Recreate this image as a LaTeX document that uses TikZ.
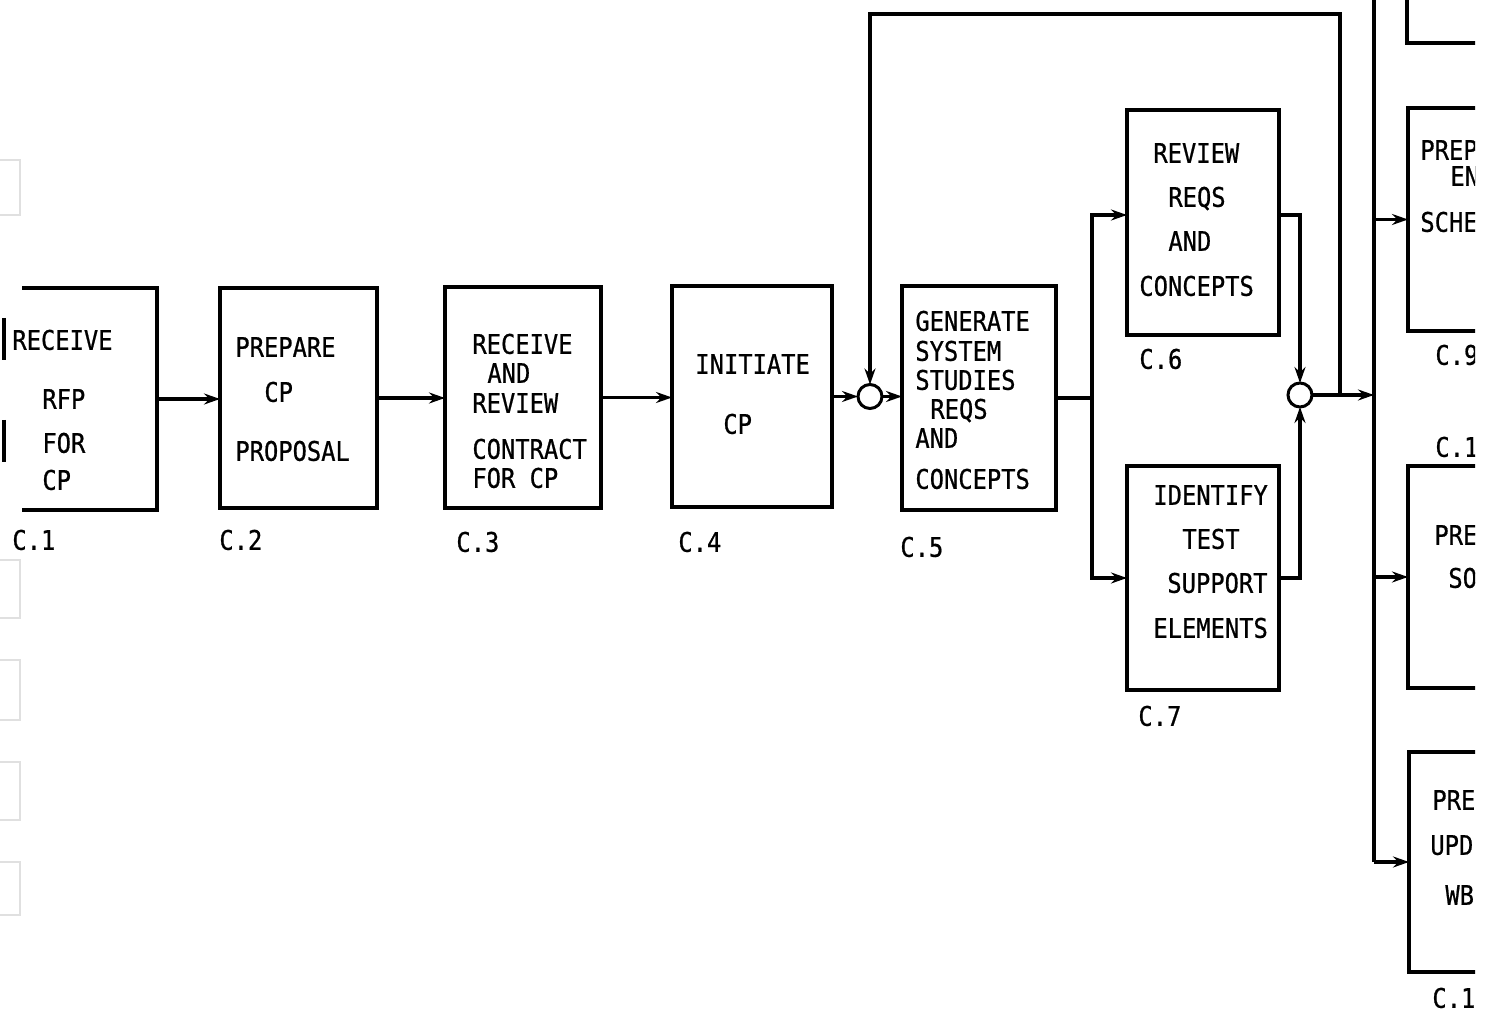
\documentclass[tikz,border=0pt]{standalone}
\usepackage{fontspec}
\usetikzlibrary{arrows.meta}
\newfontfamily\tw[FakeStretch=0.88,FakeBold=0.7]{DejaVu Sans Mono}
\begin{document}
\begin{tikzpicture}[x=0.5pt,y=-0.5pt,
  ln/.style={line width=1.8pt},
  arr/.style={line width=1.8pt,-{Stealth[length=8pt,width=5.5pt]}},
  box/.style={draw,line width=1.8pt,rectangle,anchor=north west,inner sep=0pt,outer sep=0pt},
  ghost/.style={rectangle,anchor=north west,inner sep=0pt,outer sep=0pt},
  jn/.style={draw,line width=1.5pt,circle,minimum size=12pt,inner sep=0pt,outer sep=0pt},
  txt/.style={font=\tw\fontsize{13.5pt}{15pt}\selectfont,inner sep=0pt,anchor=west,text height=9.8pt,text depth=0pt},
  faint/.style={draw=black!12,line width=0.6pt}
]
\useasboundingbox (0,0) rectangle (1485,1015);
\fill[white] (0,0) rectangle (1485,1015);
\begin{scope}
\clip (0,0) rectangle (1475,1015);

% faint margin marks
\draw[faint] (0,560) -- (20,560) -- (20,618) -- (0,618);
\draw[faint] (0,660) -- (20,660) -- (20,720) -- (0,720);
\draw[faint] (0,762) -- (20,762) -- (20,820) -- (0,820);
\draw[faint] (0,862) -- (20,862) -- (20,915) -- (0,915);
\draw[faint] (0,160) -- (20,160) -- (20,215) -- (0,215);

% C.1 (partly cut at the left)
\node[ghost,minimum width=76.5pt,minimum height=111pt] (c1) at (4,288) {};
\draw[ln] (22,288) -- (c1.north east) -- (c1.south east) -- (22,510);
\draw[line width=2.2pt] (4,318) -- (4,360);
\draw[line width=2.2pt] (4,420) -- (4,462);
\node[txt] (c1a) at (12,340) {RECEIVE};
\node[txt] (c1b) at (42,399) {RFP};
\node[txt] (c1c) at (42,443) {FOR};
\node[txt] (c1d) at (42,480) {CP};
\node[txt] (c1l) at (12,540) {C.1};

% C.2
\node[box,minimum width=78.5pt,minimum height=110pt] (c2) at (220,288) {};
\node[txt] (c2a) at (235,347) {PREPARE};
\node[txt] (c2b) at (264,392) {CP};
\node[txt] (c2c) at (235,451) {PROPOSAL};
\node[txt] (c2l) at (219,540) {C.2};

% C.3
\node[box,minimum width=78pt,minimum height=110.5pt] (c3) at (445,287) {};
\node[txt] (c3a) at (472,344) {RECEIVE};
\node[txt] (c3b) at (487,373) {AND};
\node[txt] (c3c) at (472,403) {REVIEW};
\node[txt] (c3d) at (472,449) {CONTRACT};
\node[txt] (c3e) at (472,478) {FOR CP};
\node[txt] (c3l) at (456,542) {C.3};

% C.4
\node[box,minimum width=80pt,minimum height=110.5pt] (c4) at (672,286) {};
\node[txt] (c4a) at (695,364) {INITIATE};
\node[txt] (c4b) at (723,424) {CP};
\node[txt] (c4l) at (678,542) {C.4};

% junction 1
\node[jn] (j1) at (870,396.5) {};

% C.5
\node[box,minimum width=77pt,minimum height=112pt] (c5) at (902,286) {};
\node[txt] (c5a) at (915,321) {GENERATE};
\node[txt] (c5b) at (915,351) {SYSTEM};
\node[txt] (c5c) at (915,380) {STUDIES};
\node[txt] (c5d) at (930,409) {REQS};
\node[txt] (c5e) at (915,438) {AND};
\node[txt] (c5f) at (915,479) {CONCEPTS};
\node[txt] (c5l) at (900,547) {C.5};

% C.6
\node[box,minimum width=76pt,minimum height=112.5pt] (c6) at (1127,110) {};
\node[txt] (c6a) at (1153,153) {REVIEW};
\node[txt] (c6b) at (1168,197) {REQS};
\node[txt] (c6c) at (1168,241) {AND};
\node[txt] (c6d) at (1139,286) {CONCEPTS};
\node[txt] (c6l) at (1139,359) {C.6};

% C.7
\node[box,minimum width=76pt,minimum height=112pt] (c7) at (1127,466) {};
\node[txt] (c7a) at (1153,495) {IDENTIFY};
\node[txt] (c7b) at (1182,539) {TEST};
\node[txt] (c7c) at (1167,583) {SUPPORT};
\node[txt] (c7d) at (1153,628) {ELEMENTS};
\node[txt] (c7l) at (1138,716) {C.7};

% junction 2
\node[jn] (j2) at (1300,395) {};

% right-hand boxes (cut at the page edge)
\node[box,minimum width=76pt,minimum height=61.5pt] (ctop) at (1407,-80) {};
\node[box,minimum width=76pt,minimum height=111.5pt] (c9) at (1408,108) {};
\node[txt] (c9a) at (1420,150) {PREP};
\node[txt] (c9b) at (1450,176) {EN};
\node[txt] (c9c) at (1420,222) {SCHE};
\node[txt] (c9l) at (1435,355) {C.9};
\node[txt] (c10l) at (1435,447) {C.1};
\node[box,minimum width=76pt,minimum height=111pt] (c10) at (1408,466) {};
\node[txt] (c10a) at (1434,535) {PRE};
\node[txt] (c10b) at (1448,578) {SO};
\node[box,minimum width=76pt,minimum height=110pt] (c11) at (1409,752) {};
\node[txt] (c11a) at (1432,800) {PRE};
\node[txt] (c11b) at (1430,845) {UPD};
\node[txt] (c11c) at (1445,895) {WB};
\node[txt] (c11l) at (1432,998) {C.1};

% coordinates
\coordinate (sp) at (1092,398);
\coordinate (fbx) at (1340,14);
\coordinate (bustop) at (1374,0);
\coordinate (busbot) at (1374,862);

% connectors
\draw[arr] (c1.east) -- (c1.east -| c2.west);
\draw[arr] (c2.east) -- (c2.east -| c3.west);
\draw[arr] (c3.east) -- (c3.east -| c4.west);
\draw[arr] (c4.east) -- (j1.west);
\draw[arr] (j1.east) -- (j1.east -| c5.west);
\draw[ln] (c5.east) -- (c5.east -| sp);
\draw[arr] (sp) |- ([yshift=3.75pt]c6.west);
\draw[arr] (sp) |- (c7.west);
\draw[arr] ([yshift=3.75pt]c6.east) -| (j2.north);
\draw[arr] (c7.east) -| (j2.south);
\draw[arr] (j2.east) -- (j2.east -| bustop);
\draw[arr] (j2.east -| fbx) -- (fbx) -| (j1.north);
\draw[ln] (bustop) -- (busbot);
\draw[arr] (c9.west -| bustop) -- (c9.west);
\draw[arr] (c10.west -| bustop) -- (c10.west);
\draw[arr] (busbot) -- (c11.west);
\end{scope}
\end{tikzpicture}
\end{document}
